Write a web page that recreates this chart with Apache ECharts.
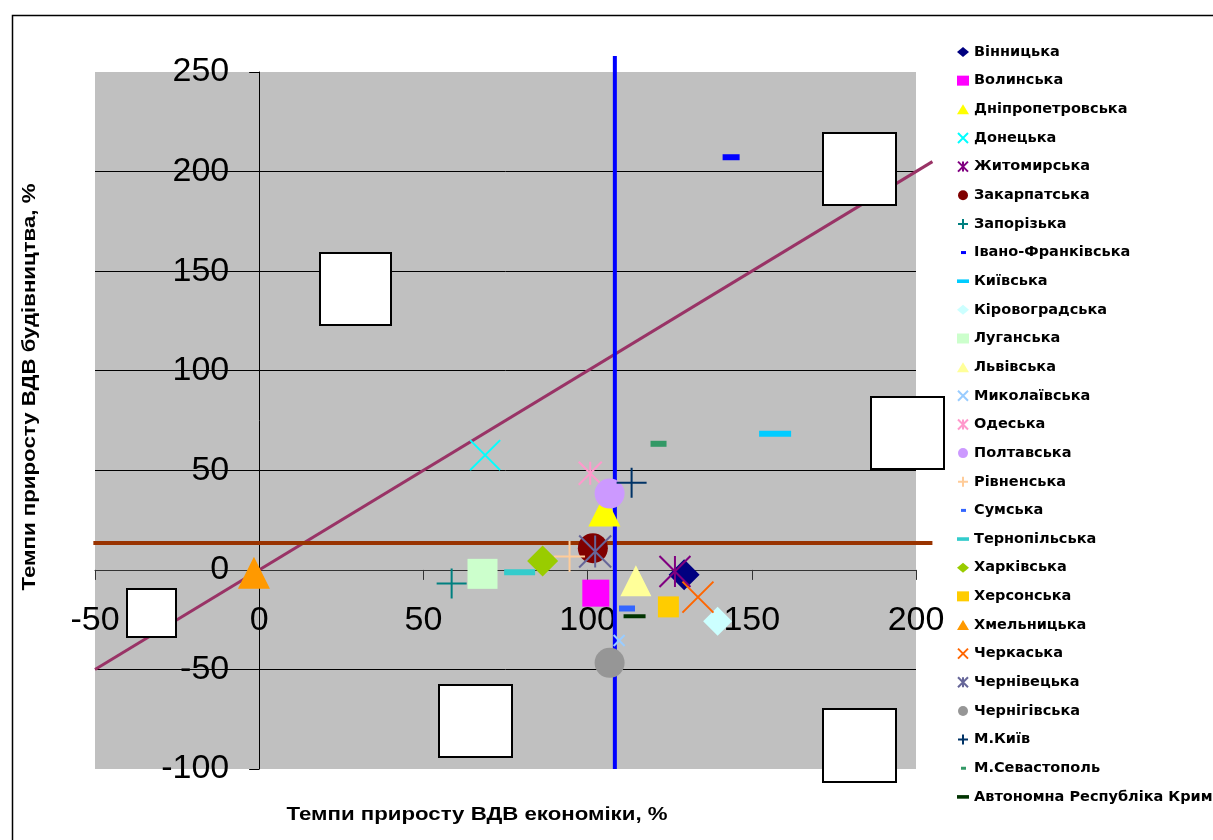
<!DOCTYPE html>
<html>
<head>
<meta charset="utf-8">
<script src="https://cdn.jsdelivr.net/npm/echarts@6/dist/echarts.min.js"></script>
<style>
html,body{margin:0;padding:0;background:#fff;}
#chart{width:1213px;height:840px;}
</style>
</head>
<body>
<div id="chart"></div>
<script>
// ---- data ----
var regions = ['Вінницька','Волинська','Дніпропетровська','Донецька','Житомирська','Закарпатська','Запорізька','Івано-Франківська','Київська','Кіровоградська','Луганська','Львівська','Миколаївська','Одеська','Полтавська','Рівненська','Сумська','Тернопільська','Харківська','Херсонська','Хмельницька','Черкаська','Чернівецька','Чернігівська','М.Київ','М.Севастополь','Автономна Республіка Крим'];
var economyGrowth = [129.4,102.5,105.1,68.8,126.6,101.6,58.6,143.7,157.1,139.6,68.0,114.7,109.6,100.8,106.7,94.5,112.0,79.3,86.3,124.6,-1.6,133.6,102.3,106.7,113.4,121.6,114.3];
var constructionGrowth = [-2.5,-11.7,29.8,57.6,-0.8,10.9,-6.9,207.2,68.4,-25.8,-2.0,-5.5,-35.5,48.5,38.3,6.7,-19.4,-1.2,4.5,-18.6,-1.5,-13.7,9.2,-46.7,43.8,63.3,-23.3];
var xTicks = [-50,0,50,100,150,200];
var yTicks = [-100,-50,0,50,100,150,200,250];
// reference lines: [x1, y1, x2, y2]
var diagonalLine = [-50,-50,205,205];
var meanConstructionLine = [-50.5,13.5,205,13.5];
var meanEconomyLine = [108.3,-100,108.3,258];

// ---- styles ----
var P_X = 'path://M0,0L10,10M0,10L10,0';
var P_STAR = 'path://M0,0L10,10M0,10L10,0M5,0L5,10';
var P_PLUS = 'path://M5,0L5,10M0,5L10,5';
var markerKinds = ['diamond','rect','triangle','x','star','circle','plus','dash','dash','diamond','rect','triangle','x','star','circle','plus','dash','dash','diamond','rect','triangle','x','star','circle','plus','dash','dash'];
var markerColors = ['#000080','#FF00FF','#FFFF00','#00FFFF','#800080','#800000','#008080','#0000FF','#00CCFF','#CCFFFF','#CCFFCC','#FFFF99','#99CCFF','#FF99CC','#CC99FF','#FFCC99','#3366FF','#33CCCC','#99CC00','#FFCC00','#FF9900','#FF6600','#666699','#969696','#003366','#339966','#003300'];
var markerSizes = [31,27,32,30,31,30,30,[17,6],[32,6],29,30,31,11,23,30,31,[16,6],[31,6],31,21,32,31,32,30,30,[16,6],[22,4]];
var dashLegendBig = 'path://M0,0h10v3h-10z';
var dashLegendSmall = 'path://M0,0M12,10M4,3.5h5v3h-5z';

var FONT = '"Liberation Sans", Arial, sans-serif';

function refLine(seg, color, width){
  return {
    type:'custom', data:[seg], z:1, silent:true, clip:false,
    encode:{x:[0,2], y:[1,3]},
    renderItem: function(params, api){
      var p1 = api.coord([api.value(0), api.value(1)]);
      var p2 = api.coord([api.value(2), api.value(3)]);
      return {type:'line', shape:{x1:p1[0], y1:p1[1], x2:p2[0], y2:p2[1]},
              style:{stroke:color, lineWidth:width}};
    }
  };
}

var series = [];
series.push(refLine(diagonalLine, '#993366', 3));
series.push(refLine(meanConstructionLine, '#993300', 4));
series.push(refLine(meanEconomyLine, '#0000FF', 4));

var legendData = [];
regions.forEach(function(name, i){
  var kind = markerKinds[i], col = markerColors[i];
  var sym, itemStyle, icon;
  if (kind === 'x' || kind === 'star' || kind === 'plus') {
    sym = kind === 'x' ? P_X : (kind === 'star' ? P_STAR : P_PLUS);
    itemStyle = {color: col, borderColor: col, borderWidth: 2, opacity: 1};
    icon = sym;
  } else if (kind === 'dash') {
    sym = 'rect';
    itemStyle = {color: col, borderWidth: 0, opacity: 1};
    var w = markerSizes[i][0];
    icon = w > 20 ? dashLegendBig : dashLegendSmall;
  } else {
    sym = kind;
    itemStyle = {color: col, borderWidth: 0, opacity: 1};
    icon = kind;
  }
  series.push({
    name: name, type: 'scatter', z: 3,
    symbol: sym, symbolSize: markerSizes[i],
    itemStyle: itemStyle,
    data: [[economyGrowth[i], constructionGrowth[i]]]
  });
  legendData.push({name: name, icon: icon});
});

var chart = echarts.init(document.getElementById('chart'), null, {renderer:'canvas'});

function fitScale(text, font, target){
  var c = document.createElement('canvas').getContext('2d');
  c.font = font;
  return target / c.measureText(text).width;
}
var xTitle = 'Темпи приросту ВДВ економіки, %';
var yTitle = 'Темпи приросту ВДВ будівництва, %';
var titleFont = 'bold 19px "Liberation Sans"';

var boxes = [[320,253,71,72],[823,133,73,72],[871,397,73,72],[127,589,49,48],[439,685,73,72],[823,709,73,73]];
var graphics = [
  {type:'rect', left:10, top:13, z:0, silent:true, shape:{x:0,y:0,width:1230,height:860},
   style:{fill:'none', stroke:'#000', lineWidth:1.5}},
  {type:'text', x:477, y:815, z:10, scaleX: fitScale(xTitle, titleFont, 381), scaleY:1,
   style:{text:xTitle, font:titleFont, fill:'#000', textAlign:'center', textVerticalAlign:'middle'}},
  {type:'text', x:30, y:387, z:10, rotation: Math.PI/2, scaleX: fitScale(yTitle, titleFont, 407), scaleY:1,
   style:{text:yTitle, font:titleFont, fill:'#000', textAlign:'center', textVerticalAlign:'middle'}}
];
boxes.forEach(function(b){
  graphics.push({type:'rect', x:b[0], y:b[1], z:20, silent:true, shape:{x:0,y:0,width:b[2],height:b[3]},
    style:{fill:'#fff', stroke:'#000', lineWidth:2}});
});

chart.setOption({
  animation: false,
  backgroundColor: '#fff',
  grid: {left:95, right:297, top:72, bottom:71, show:true, backgroundColor:'#C0C0C0', borderWidth:0,
         containLabel:false, outerBoundsMode:'none'},
  xAxis: {
    type:'value', min: xTicks[0], max: xTicks[xTicks.length-1], interval: 50,
    position:'bottom', offset:-199.1,
    axisLine:{show:true, onZero:false, lineStyle:{color:'#333', width:1}},
    axisTick:{show:true, length:10, lineStyle:{color:'#333'}},
    axisLabel:{show:true, margin:34, color:'#000', fontSize:34, fontFamily:FONT},
    splitLine:{show:false}
  },
  yAxis: {
    type:'value', min: yTicks[0], max: yTicks[yTicks.length-1], interval: 50,
    position:'left', offset:-164.2,
    axisLine:{show:true, onZero:false, lineStyle:{color:'#000', width:1}},
    axisTick:{show:true, length:10, lineStyle:{color:'#000'}},
    axisLabel:{show:true, margin:30, color:'#000', fontSize:34, fontFamily:FONT},
    splitLine:{show:true, showMinLine:false, showMaxLine:false, lineStyle:{color:'#000', width:1}}
  },
  legend: {
    orient:'vertical', left:957, top:44, padding:0,
    itemWidth:12, itemHeight:10, itemGap:12.65,
    data: legendData,
    textStyle:{color:'#000', fontSize:14.5, fontWeight:'bold', fontFamily:'"DejaVu Sans", sans-serif', lineHeight:16}
  },
  graphic: graphics,
  series: series
});
</script>
</body>
</html>
